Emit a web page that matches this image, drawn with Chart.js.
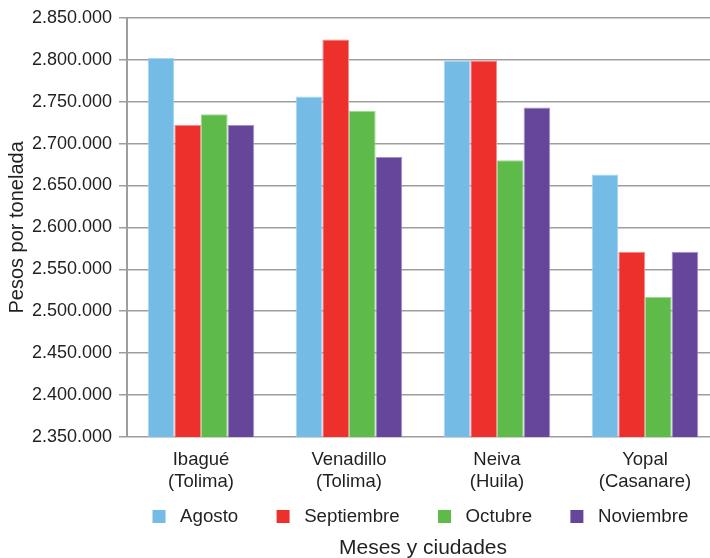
<!DOCTYPE html>
<html lang="es">
<head>
<meta charset="utf-8">
<title>Precios por tonelada</title>
<script src="https://cdn.jsdelivr.net/npm/chart.js@4/dist/chart.umd.min.js"></script>
<style>
  html, body { margin: 0; padding: 0; background: #fff; overflow: hidden; }
  #wrap { width: 722px; height: 558px; }
</style>
</head>
<body>
<div id="wrap"><canvas id="grafico" width="722" height="558"></canvas></div>
<script>
// datos
const ciudades = [["Ibagué", "(Tolima)"], ["Venadillo", "(Tolima)"], ["Neiva", "(Huila)"], ["Yopal", "(Casanare)"]];
const meses = ["Agosto", "Septiembre", "Octubre", "Noviembre"];
const agosto = [2802000, 2756000, 2799000, 2663000];
const septiembre = [2722000, 2824000, 2799000, 2571000];
const octubre = [2735000, 2739000, 2680000, 2517000];
const noviembre = [2722000, 2684000, 2743000, 2571000];
const yMin = 2350000;
const yMax = 2850000;
const yPaso = 50000;

const colores = ["#74bbe6", "#ee302d", "#5ebb4a", "#65469b"];
const bordes = ["#a9d7f3", "#f48c8a", "#9ed892", "#a592c8"];
const series = [agosto, septiembre, octubre, noviembre];

const fuente = "'Liberation Sans', Arial, sans-serif";
const texto = "#231f20";

// formato con puntos de miles: 2.850.000
function conPuntos(v) {
  return String(v).replace(/\B(?=(\d{3})+(?!\d))/g, ".");
}

const ctx = document.getElementById("grafico").getContext("2d");
new Chart(ctx, {
  type: "bar",
  data: {
    labels: ciudades,
    datasets: meses.map((m, i) => ({
      label: m,
      data: series[i],
      backgroundColor: colores[i],
      borderColor: bordes[i],
      borderWidth: 1,
      categoryPercentage: 0.72,
      barPercentage: 1.0
    }))
  },
  options: {
    responsive: false,
    animation: false,
    layout: { padding: { top: 17, right: 3, bottom: 0, left: 0 } },
    scales: {
      x: {
        grid: { display: false, drawTicks: false },
        border: { display: false },
        ticks: {
          color: texto,
          padding: 12.4,
          font: { family: fuente, size: 18.5, lineHeight: 1.17 }
        }
      },
      y: {
        min: yMin,
        max: yMax,
        afterFit: (scale) => { scale.width = 127; },
        ticks: {
          stepSize: yPaso,
          color: texto,
          padding: 7,
          font: { family: fuente, size: 18 },
          callback: (v) => conPuntos(v)
        },
        grid: { color: "#9d9d9d", lineWidth: 1.5, tickLength: 8 },
        border: { color: "#9d9d9d", width: 2 },
        title: {
          display: true,
          text: "Pesos por tonelada",
          color: texto,
          padding: { top: 5, bottom: 0 },
          font: { family: fuente, size: 20 }
        }
      }
    },
    plugins: {
      tooltip: { enabled: false },
      legend: {
        position: "bottom",
        fullSize: false,
        labels: {
          boxWidth: 13,
          boxHeight: 13,
          padding: 2,
          color: texto,
          font: { family: fuente, size: 18.7 },
          // espacio extra entre entradas
          generateLabels: (chart) => chart.data.datasets.map((ds, i) => ({
            text: " " + ds.label + (i < meses.length - 1 ? "       " : " "),
            fillStyle: colores[i],
            strokeStyle: colores[i],
            lineWidth: 0,
            fontColor: texto,
            datasetIndex: i
          }))
        }
      },
      title: {
        display: true,
        position: "bottom",
        fullSize: false,
        text: "Meses y ciudades",
        color: texto,
        padding: { top: 0, bottom: -3 },
        font: { family: fuente, size: 21, weight: "normal" }
      }
    }
  }
});
</script>
</body>
</html>
